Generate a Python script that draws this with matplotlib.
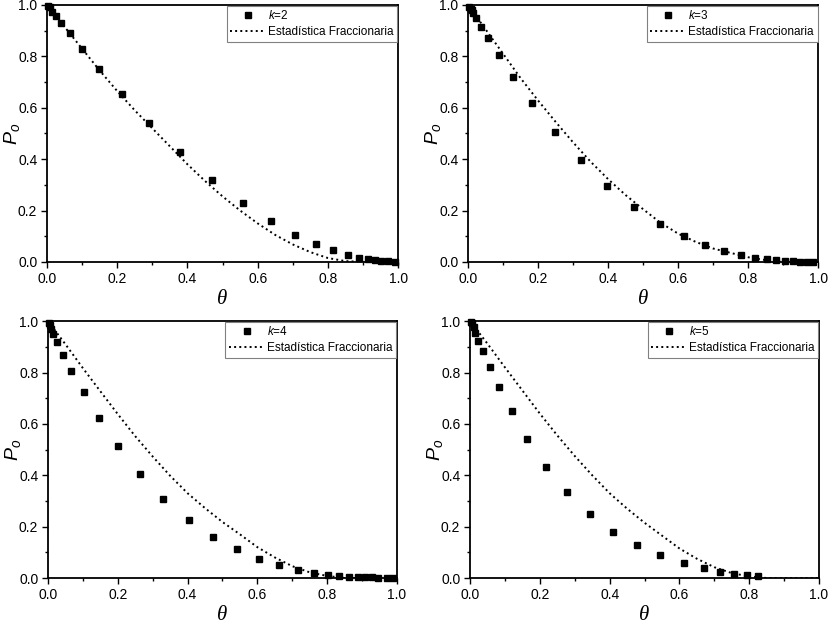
import matplotlib
matplotlib.use("Agg")
import matplotlib.pyplot as plt
from matplotlib.ticker import MultipleLocator

plt.rcParams['font.family'] = ['Liberation Sans', 'DejaVu Sans']
plt.rcParams['mathtext.fontset'] = 'custom'
plt.rcParams['mathtext.it'] = 'Liberation Sans:italic'
plt.rcParams['mathtext.rm'] = 'Liberation Sans'

# simulation points, one pair of lists per k
theta_k2 = [0.002, 0.008, 0.015, 0.025, 0.041, 0.065, 0.101, 0.148, 0.215, 0.292, 0.379, 0.470,
            0.557, 0.638, 0.707, 0.766, 0.815, 0.857, 0.889, 0.915, 0.933, 0.952, 0.971, 0.990]
p_k2 = [0.998, 0.991, 0.974, 0.957, 0.929, 0.890, 0.829, 0.751, 0.652, 0.540, 0.426, 0.320,
        0.231, 0.161, 0.106, 0.070, 0.045, 0.028, 0.017, 0.012, 0.008, 0.005, 0.003, 0.001]

theta_k3 = [0.003, 0.007, 0.010, 0.015, 0.022, 0.036, 0.057, 0.088, 0.128, 0.183, 0.249, 0.322,
            0.397, 0.474, 0.548, 0.617, 0.678, 0.732, 0.780, 0.820, 0.853, 0.880, 0.906, 0.929,
            0.948, 0.967, 0.986]
p_k3 = [0.994, 0.984, 0.980, 0.968, 0.948, 0.916, 0.870, 0.804, 0.719, 0.617, 0.506, 0.396,
        0.296, 0.214, 0.149, 0.101, 0.066, 0.044, 0.026, 0.016, 0.010, 0.006, 0.004, 0.003,
        0.001, 0.001, 0.0]

theta_k4 = [0.003, 0.005, 0.010, 0.014, 0.026, 0.042, 0.067, 0.102, 0.146, 0.201, 0.264, 0.331,
            0.404, 0.473, 0.542, 0.605, 0.663, 0.715, 0.761, 0.801, 0.834, 0.863, 0.888, 0.909,
            0.928, 0.947, 0.971, 0.990]
p_k4 = [0.991, 0.984, 0.969, 0.950, 0.917, 0.870, 0.806, 0.723, 0.622, 0.513, 0.405, 0.307,
        0.225, 0.159, 0.111, 0.074, 0.049, 0.032, 0.021, 0.012, 0.008, 0.005, 0.004, 0.003,
        0.003, 0.001, 0.001, 0.001]

theta_k5 = [0.002, 0.005, 0.010, 0.014, 0.024, 0.037, 0.056, 0.083, 0.119, 0.164, 0.218, 0.278,
            0.344, 0.410, 0.477, 0.545, 0.612, 0.670, 0.717, 0.757, 0.795, 0.825]
p_k5 = [0.997, 0.991, 0.978, 0.955, 0.924, 0.882, 0.823, 0.744, 0.649, 0.541, 0.434, 0.335,
        0.251, 0.181, 0.130, 0.088, 0.060, 0.040, 0.025, 0.016, 0.010, 0.008]

# fractional statistics curves
theta_fs = [0.0, 0.05, 0.1, 0.15, 0.2, 0.25, 0.3, 0.35, 0.4, 0.45, 0.5,
            0.55, 0.6, 0.65, 0.7, 0.75, 0.8, 0.85, 0.9, 0.95, 1.0]
fs_k2 = [1.0, 0.915, 0.83, 0.745, 0.665, 0.59, 0.52, 0.45, 0.38, 0.315, 0.255,
         0.2, 0.15, 0.105, 0.068, 0.038, 0.015, 0.003, 0.0, 0.0, 0.0]
fs_k3 = [1.0, 0.905, 0.81, 0.715, 0.628, 0.545, 0.465, 0.39, 0.322, 0.26, 0.205,
         0.152, 0.11, 0.078, 0.052, 0.035, 0.018, 0.007, 0.0, 0.0, 0.0]
fs_k4 = [1.0, 0.91, 0.817, 0.727, 0.638, 0.552, 0.473, 0.398, 0.33, 0.272, 0.218,
         0.17, 0.12, 0.08, 0.046, 0.022, 0.008, 0.0, 0.0, 0.0, 0.0]
fs_k5 = [1.0, 0.912, 0.82, 0.73, 0.64, 0.555, 0.475, 0.40, 0.33, 0.27, 0.215,
         0.165, 0.115, 0.075, 0.042, 0.019, 0.006, 0.0, 0.0, 0.0, 0.0]

k_values = [2, 3, 4, 5]
sim_theta = [theta_k2, theta_k3, theta_k4, theta_k5]
sim_p = [p_k2, p_k3, p_k4, p_k5]
fs_curves = [fs_k2, fs_k3, fs_k4, fs_k5]

positions = [[0.0566, 0.581, 0.423, 0.411],
             [0.564, 0.581, 0.4217, 0.411],
             [0.0578, 0.0752, 0.4205, 0.411],
             [0.5663, 0.0752, 0.4205, 0.411]]

fig = plt.figure(figsize=(8.3, 6.25), dpi=100)

for pos, k, th, p, fs in zip(positions, k_values, sim_theta, sim_p, fs_curves):
    ax = fig.add_axes(pos)
    ax.plot(th, p, linestyle='none', marker='s', ms=5, color='black',
            label=r'$k$=%d' % k, clip_on=False, zorder=3)
    ax.plot(theta_fs, fs, linestyle=':', lw=1.4, color='black',
            label='Estadística Fraccionaria')
    ax.set_xlim(0, 1)
    ax.set_ylim(0, 1)
    ax.xaxis.set_major_locator(MultipleLocator(0.2))
    ax.xaxis.set_minor_locator(MultipleLocator(0.1))
    ax.yaxis.set_major_locator(MultipleLocator(0.2))
    ax.yaxis.set_minor_locator(MultipleLocator(0.1))
    ax.tick_params(which='both', direction='out', top=False, right=False,
                   labelsize=10, width=1, pad=3)
    ax.tick_params(which='major', length=4)
    ax.tick_params(which='minor', length=2.5)
    for sp in ax.spines.values():
        sp.set_linewidth(1.3)
    ax.set_xlabel('θ', family='Liberation Serif', style='italic', fontsize=15, labelpad=3)
    ax.set_ylabel(r'$P_o$', fontsize=14)
    ax.yaxis.set_label_coords(-0.072, 0.5)
    leg = ax.legend(loc='upper right', fontsize=8.5, fancybox=False, framealpha=1,
                    edgecolor='gray', borderaxespad=0.05, handlelength=3.0,
                    handletextpad=0.25, borderpad=0.3, labelspacing=0.35,
                    markerscale=0.8)
    leg.get_frame().set_linewidth(0.8)

fig.savefig('out.png', dpi=100)
